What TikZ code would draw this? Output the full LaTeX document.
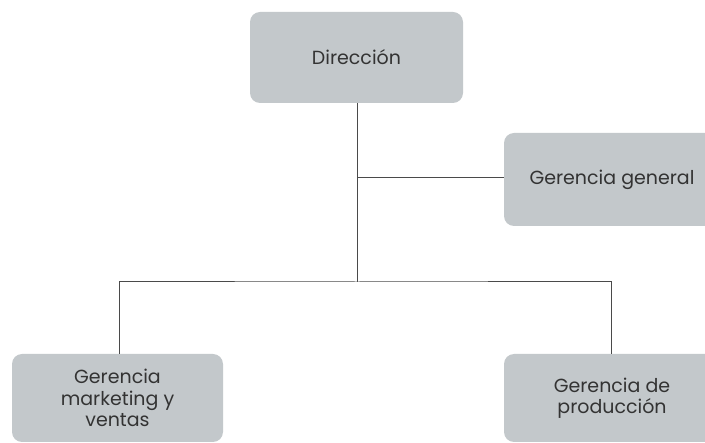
\documentclass[tikz,border=0pt]{standalone}
\usepackage{fontspec}
\setmainfont{Poppins}
\begin{document}
\begin{tikzpicture}[x=1pt,y=-1pt,
  orgbox/.style={draw=none,fill=boxgray,rounded corners=10pt,inner sep=0pt,
    align=center,text=textgray,font=\fontsize{19}{21.5}\selectfont},
  link/.style={draw=linegray,line width=1pt}]
\definecolor{boxgray}{HTML}{C3C8CB}
\definecolor{textgray}{HTML}{333333}
\definecolor{linegray}{HTML}{4A4A4A}
\useasboundingbox (0,0) rectangle (705,443);
\clip (0,0) rectangle (705,443);
% boxes
\node[orgbox,minimum width=213pt,minimum height=91pt] (dir) at (356.5,57.5) {Dirección};
\node[orgbox,minimum width=216pt,minimum height=93pt] (gg) at (612,179.5) {Gerencia general};
\node[orgbox,minimum width=211pt,minimum height=88pt] (mkt) at (117.5,398) {Gerencia\\marketing y\\ventas};
\node[orgbox,minimum width=216pt,minimum height=88pt] (prod) at (612,398) {Gerencia de\\producción};
% connectors
\coordinate (hub) at (357,178);
\coordinate (bus) at (357,282);
\draw[link] (dir.south -| hub) -- (bus);
\draw[link] (hub) -- (hub -| gg.west);
\draw[link] (mkt.north -| 119,0) |- (bus) -| (prod.north -| 611,0);
\end{tikzpicture}
\end{document}
